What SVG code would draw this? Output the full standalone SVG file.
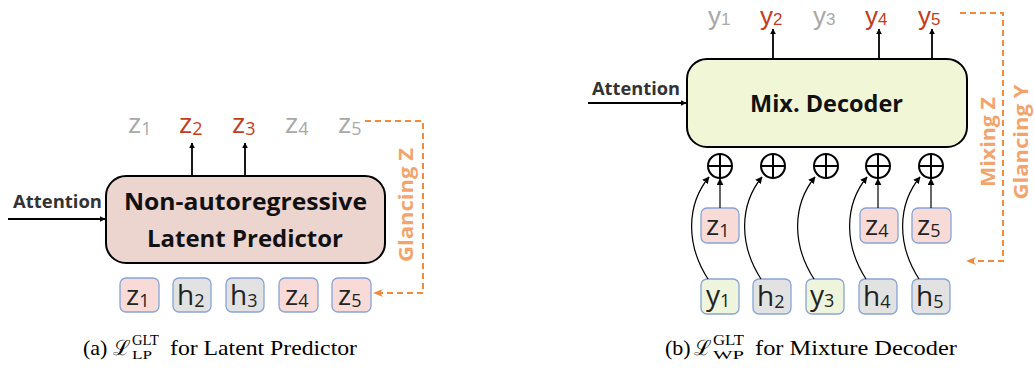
<svg xmlns="http://www.w3.org/2000/svg" width="1034" height="372" viewBox="0 0 1034 372">
<defs>
<marker id="ah" viewBox="0 0 10 10" refX="9" refY="5" markerWidth="6" markerHeight="6" orient="auto-start-reverse" markerUnits="userSpaceOnUse"><path d="M0,0 L10,5 L0,10 z" fill="#000"/></marker>
<marker id="ahs" viewBox="0 0 10 10" refX="9" refY="5" markerWidth="7" markerHeight="7" orient="auto" markerUnits="userSpaceOnUse"><path d="M0,0 L10,5 L0,10 z" fill="#000"/></marker>
<marker id="ao" viewBox="0 0 10 10" refX="9" refY="5" markerWidth="10" markerHeight="10" orient="auto" markerUnits="userSpaceOnUse"><path d="M0,1 L10,5 L0,9 L3,5 z" fill="#f08a3c"/></marker>
<style>
.lbl{font-family:"Open Sans","Noto Sans",sans-serif;font-size:28px;}
.sub{font-size:18px;}
.ytop{font-family:"Liberation Sans","Arimo",sans-serif;font-size:26px;}
.ysub{font-size:17px;}
.gray{fill:#a8a8a8;}
.red{fill:#c33c1e;}
.blk{fill:#222;}
.bold{font-family:"Open Sans","Noto Sans",sans-serif;font-weight:bold;fill:#111;font-size:23px;}
.att{font-family:"Open Sans","Noto Sans",sans-serif;font-weight:bold;font-size:17px;fill:#333;}
.orange{font-family:"Open Sans","Noto Sans",sans-serif;font-weight:bold;font-size:20px;fill:#f3a46c;}
.dash{fill:none;stroke:#f08a3c;stroke-width:2;stroke-dasharray:6,4;}
.arr{fill:none;stroke:#000;stroke-width:1.8;}
.thin{fill:none;stroke:#000;stroke-width:1.2;}
.cross{fill:none;stroke:#000;stroke-width:2;}
.tok{stroke:#86a4d8;stroke-width:1.3;}
.pz{fill:#f8dbd7;}
.ph{fill:#e2e2e2;}
.py{fill:#eef5dc;}
.cap{font-family:"Liberation Serif",serif;font-size:22px;fill:#000;}
.capL{font-family:"DejaVu Serif","Liberation Serif",serif;font-size:21px;fill:#000;}
.capm{font-family:"Liberation Serif",serif;fill:#000;}
.sup{font-size:14px;}
.lo{font-size:13px;}
.oplus{fill:#fff;stroke:#000;stroke-width:2;}
</style>
</defs>
<rect width="1034" height="372" fill="#fff"/>

<!-- ===== Left panel ===== -->
<g id="lp-box">
<rect x="106" y="176" width="279" height="87" rx="20" fill="#ecd4cf" stroke="#000" stroke-width="2"/>
<text class="bold" x="245.500" y="210" text-anchor="middle" textLength="243" lengthAdjust="spacingAndGlyphs">Non-autoregressive</text>
<text class="bold" x="245" y="247" text-anchor="middle" textLength="196" lengthAdjust="spacingAndGlyphs">Latent Predictor</text>
</g>
<g id="lp-attention"><text class="att" x="13" y="208" textLength="89" lengthAdjust="spacingAndGlyphs">Attention</text></g>
<g id="lp-outputs">
<text class="lbl gray" x="128" y="133">z<tspan class="sub" dy="2">1</tspan></text>
<text class="lbl red" x="179" y="133">z<tspan class="sub" dy="2">2</tspan></text>
<text class="lbl red" x="232" y="133">z<tspan class="sub" dy="2">3</tspan></text>
<text class="lbl gray" x="285" y="133">z<tspan class="sub" dy="2">4</tspan></text>
<text class="lbl gray" x="338" y="133">z<tspan class="sub" dy="2">5</tspan></text>
</g>
<g id="lp-inputs">
<g id="lp-in1"><rect class="tok pz" x="120" y="278" width="39" height="34" rx="6"/><text class="lbl blk" x="126" y="305">z<tspan class="sub" dy="2">1</tspan></text></g>
<g id="lp-in2"><rect class="tok ph" x="173" y="278" width="38" height="34" rx="6"/><text class="lbl blk" x="177" y="305">h<tspan class="sub" dy="2">2</tspan></text></g>
<g id="lp-in3"><rect class="tok ph" x="226" y="278" width="38" height="34" rx="6"/><text class="lbl blk" x="230" y="305">h<tspan class="sub" dy="2">3</tspan></text></g>
<g id="lp-in4"><rect class="tok pz" x="279" y="278" width="39" height="34" rx="6"/><text class="lbl blk" x="285" y="305">z<tspan class="sub" dy="2">4</tspan></text></g>
<g id="lp-in5"><rect class="tok pz" x="332" y="278" width="39" height="34" rx="6"/><text class="lbl blk" x="338" y="305">z<tspan class="sub" dy="2">5</tspan></text></g>
</g>
<g id="lp-glancing"><text class="orange" transform="translate(413,205) rotate(-90)" text-anchor="middle" textLength="114" lengthAdjust="spacingAndGlyphs">Glancing Z</text></g>

<!-- ===== Right panel ===== -->
<g id="wp-box">
<rect x="687" y="59" width="280" height="88" rx="20" fill="#f1f7d6" stroke="#000" stroke-width="2"/>
<text class="bold" x="826.500" y="112" text-anchor="middle" textLength="153" lengthAdjust="spacingAndGlyphs">Mix. Decoder</text>
</g>
<g id="wp-attention"><text class="att" x="592" y="95" textLength="88" lengthAdjust="spacingAndGlyphs">Attention</text></g>
<g id="wp-outputs">
<text class="ytop gray" x="708" y="25">y<tspan class="ysub">1</tspan></text>
<text class="ytop red" x="760" y="25">y<tspan class="ysub">2</tspan></text>
<text class="ytop gray" x="813" y="25">y<tspan class="ysub">3</tspan></text>
<text class="ytop red" x="865" y="25">y<tspan class="ysub">4</tspan></text>
<text class="ytop red" x="918" y="25">y<tspan class="ysub">5</tspan></text>
</g>
<g id="wp-oplus">
<g id="op1"><circle class="oplus" cx="720" cy="166" r="12"/><path class="cross" d="M708 166H732M720 154V178"/></g>
<g id="op2"><circle class="oplus" cx="773" cy="166" r="12"/><path class="cross" d="M761 166H785M773 154V178"/></g>
<g id="op3"><circle class="oplus" cx="826" cy="166" r="12"/><path class="cross" d="M814 166H838M826 154V178"/></g>
<g id="op4"><circle class="oplus" cx="878" cy="166" r="12"/><path class="cross" d="M866 166H890M878 154V178"/></g>
<g id="op5"><circle class="oplus" cx="931" cy="166" r="12"/><path class="cross" d="M919 166H943M931 154V178"/></g>
</g>
<g id="wp-z">
<g id="wp-z1"><rect class="tok pz" x="701" y="208" width="38" height="35" rx="6"/><text class="lbl blk" x="706" y="235">z<tspan class="sub" dy="2">1</tspan></text></g>
<g id="wp-z4"><rect class="tok pz" x="860" y="208" width="38" height="35" rx="6"/><text class="lbl blk" x="865" y="235">z<tspan class="sub" dy="2">4</tspan></text></g>
<g id="wp-z5"><rect class="tok pz" x="912" y="208" width="39" height="35" rx="6"/><text class="lbl blk" x="917" y="235">z<tspan class="sub" dy="2">5</tspan></text></g>
</g>
<g id="wp-inputs">
<g id="wp-in1"><rect class="tok py" x="701" y="279" width="38" height="35" rx="6"/><text class="lbl blk" x="706" y="305">y<tspan class="sub" dy="2">1</tspan></text></g>
<g id="wp-in2"><rect class="tok ph" x="753" y="279" width="38" height="35" rx="6"/><text class="lbl blk" x="757" y="306">h<tspan class="sub" dy="2">2</tspan></text></g>
<g id="wp-in3"><rect class="tok py" x="806" y="279" width="38" height="35" rx="6"/><text class="lbl blk" x="810" y="305">y<tspan class="sub" dy="2">3</tspan></text></g>
<g id="wp-in4"><rect class="tok ph" x="859" y="279" width="38" height="35" rx="6"/><text class="lbl blk" x="863" y="306">h<tspan class="sub" dy="2">4</tspan></text></g>
<g id="wp-in5"><rect class="tok ph" x="912" y="279" width="38" height="35" rx="6"/><text class="lbl blk" x="916" y="306">h<tspan class="sub" dy="2">5</tspan></text></g>
</g>
<g id="wp-mixing">
<text class="orange" transform="translate(995,142) rotate(-90)" text-anchor="middle" textLength="90" lengthAdjust="spacingAndGlyphs">Mixing Z</text>
<text class="orange" transform="translate(1028,142) rotate(-90)" text-anchor="middle" textLength="115" lengthAdjust="spacingAndGlyphs">Glancing Y</text>
</g>

<!-- ===== Connectors ===== -->
<g id="connectors">
<path class="arr" d="M8 219H105" marker-end="url(#ah)"/>
<path class="arr" d="M192 176V143" marker-end="url(#ah)"/>
<path class="arr" d="M245 176V143" marker-end="url(#ah)"/>
<path class="dash" d="M365 121H423V293H374" marker-end="url(#ao)"/>

<path class="arr" d="M588 103H686" marker-end="url(#ah)"/>
<path class="arr" d="M773 59V29" marker-end="url(#ah)"/>
<path class="arr" d="M879 59V29" marker-end="url(#ah)"/>
<path class="arr" d="M932 59V29" marker-end="url(#ah)"/>
<path class="dash" d="M960 13H1003V261H967" marker-end="url(#ao)"/>

<path class="thin" d="M720 208V179" marker-end="url(#ahs)"/>
<path class="thin" d="M878 208V179" marker-end="url(#ahs)"/>
<path class="thin" d="M931 208V179" marker-end="url(#ahs)"/>

<path class="thin" d="M708 279C686 245 686 205 709 177" marker-end="url(#ahs)"/>
<path class="thin" d="M761 279C739 245 739 205 762 177" marker-end="url(#ahs)"/>
<path class="thin" d="M814 279C792 245 792 205 815 177" marker-end="url(#ahs)"/>
<path class="thin" d="M866 279C844 245 844 205 867 177" marker-end="url(#ahs)"/>
<path class="thin" d="M919 279C897 245 897 205 920 177" marker-end="url(#ahs)"/>
</g>

<!-- ===== Captions ===== -->
<g id="caption-a">
<text class="cap" x="83" y="355">(a)</text>
<text class="capL" x="113" y="355">ℒ</text>
<text class="capm sup" x="132" y="345" textLength="27" lengthAdjust="spacingAndGlyphs">GLT</text>
<text class="capm lo" x="132" y="359" textLength="20" lengthAdjust="spacingAndGlyphs">LP</text>
<text class="cap" x="170" y="355" textLength="187" lengthAdjust="spacingAndGlyphs">for Latent Predictor</text>
</g>
<g id="caption-b">
<text class="cap" x="665" y="355">(b)</text>
<text class="capL" x="694" y="355">ℒ</text>
<text class="capm sup" x="713" y="345" textLength="31" lengthAdjust="spacingAndGlyphs">GLT</text>
<text class="capm lo" x="713" y="359" textLength="31" lengthAdjust="spacingAndGlyphs">WP</text>
<text class="cap" x="755" y="355" textLength="202" lengthAdjust="spacingAndGlyphs">for Mixture Decoder</text>
</g>
</svg>
